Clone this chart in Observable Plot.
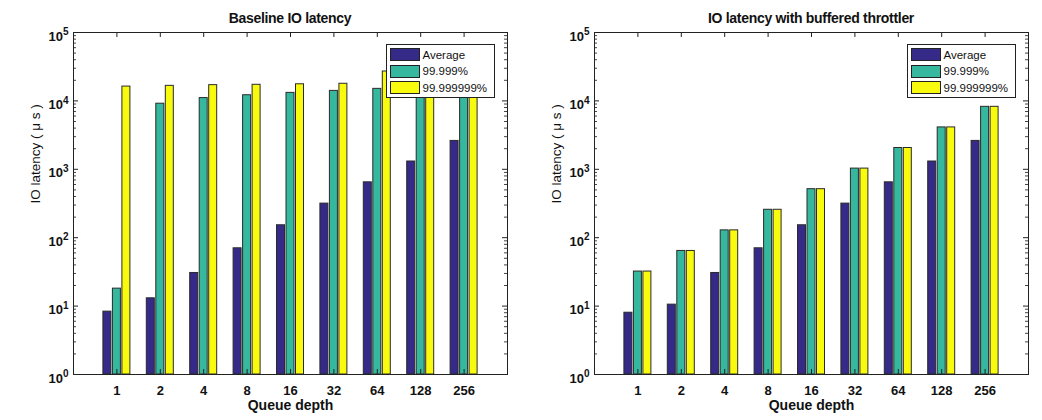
<!DOCTYPE html>
<html><head><meta charset="utf-8">
<script src="https://cdn.jsdelivr.net/npm/d3@7"></script>
<script src="https://cdn.jsdelivr.net/npm/@observablehq/plot@0.6"></script>
<style>
body{margin:0;background:#fff;font-family:Arial,"Liberation Sans",sans-serif;}
#wrap{display:flex;width:1042px;height:420px;}
.panel{position:relative;height:420px;flex:none;}
.title{height:15px;padding-top:11px;line-height:15px;font-size:14px;font-weight:bold;text-align:center;color:#111;letter-spacing:-0.3px;}
.legend{position:absolute;background:#fff;border:1px solid #222;box-sizing:border-box;}
.row{position:absolute;left:3px;height:13px;display:flex;align-items:center;}
.sw{width:30px;height:13px;box-sizing:border-box;border:1px solid #222;}
.lab{margin-left:3px;font-size:11.5px;color:#111;white-space:nowrap;}
</style></head><body><div id="wrap"></div>
<script>
// Queue depth categories
const categories = ["1","2","4","8","16","32","64","128","256"];
// Baseline IO latency (µs)
const baselineAvg = [8.3, 13, 30.5, 70, 152, 315, 645, 1300, 2600];
const baselineP5 = [18, 9100, 11000, 12100, 13100, 14000, 15000, 16000, 17000];
const baselineP8 = [16200, 16600, 17000, 17200, 17500, 17800, 26900, 29000, 31000];
// IO latency with buffered throttler (µs)
const throttledAvg = [8.0, 10.5, 30.5, 70, 152, 315, 645, 1300, 2600];
const throttledP5 = [32, 64, 128, 256, 512, 1024, 2048, 4096, 8192];
const throttledP8 = [32, 64, 128, 256, 512, 1024, 2048, 4096, 8192];

const seriesNames = ["Average", "99.999%", "99.999999%"];
const seriesColors = ["#352a87", "#36b89e", "#f9fb0e"];
const yTicks = [1, 10, 100, 1000, 10000, 100000];
const yDomain = [1, 100000];
const xLabel = "Queue depth";
const yLabel = "IO latency ( \u03bc s )";

function makePanel({title, series, width, ml, mr, legendLeft}) {
  const div = document.createElement("div");
  div.className = "panel";
  div.style.width = width + "px";
  const t = document.createElement("div");
  t.className = "title";
  t.style.paddingLeft = ml + "px";
  t.style.paddingRight = mr + "px";
  t.textContent = title;
  div.appendChild(t);

  const H = 394, mt = 6, mb = 46;
  const fw = width - ml - mr, fh = H - mt - mb;
  const rows = categories.map((c, i) => ({qd: c, v0: series[0][i], v1: series[1][i], v2: series[2][i]}));
  const bw = 8, pitch = 9.5, group = 27;
  const barMarks = series.map((s, j) => Plot.barY(rows, {
    x: "qd", y1: () => yDomain[0], y2: "v" + j,
    fill: seriesColors[j], stroke: "#2a2a2a", strokeWidth: 1,
    insetLeft: j * pitch, insetRight: group - j * pitch - bw
  }));
  const minor = [];
  for (let e = 0; e < 5; e++) for (let m = 2; m <= 9; m++) minor.push(m * 10 ** e);

  const plot = Plot.plot({
    width, height: H, marginTop: mt, marginBottom: mb, marginLeft: ml, marginRight: mr,
    style: {fontFamily: "Arial, 'Liberation Sans', sans-serif", color: "#111", overflow: "visible", background: "transparent"},
    x: {type: "band", domain: categories, paddingInner: 0.378, paddingOuter: 0.689, round: false},
    y: {type: "log", domain: yDomain},
    marks: [
      ...barMarks,
      Plot.ruleY(yTicks, {y: d => d, stroke: "#222", insetRight: fw - 5}),
      Plot.ruleY(yTicks, {y: d => d, stroke: "#222", insetLeft: fw - 5}),
      Plot.ruleY(minor, {y: d => d, stroke: "#444", insetRight: fw - 3}),
      Plot.ruleY(minor, {y: d => d, stroke: "#444", insetLeft: fw - 3}),
      Plot.ruleX(categories, {x: d => d, stroke: "#222", insetBottom: fh - 5}),
      Plot.ruleX(categories, {x: d => d, stroke: "#222", insetTop: fh - 5}),
      Plot.frame({stroke: "#222"}),
      Plot.axisX({tickSize: 0, tickPadding: 11, fontSize: 13, fontWeight: "bold", label: null}),
      Plot.axisY({ticks: yTicks, tickSize: 0, tickPadding: 5, fontSize: 13, fontWeight: "bold", label: null,
        tickFormat: d => "10^" + Math.round(Math.log10(d)), dy: 4}),
      Plot.text([xLabel], {text: d => d, frameAnchor: "bottom", dy: 35, fontSize: 14, fontWeight: "bold"}),
      Plot.text([yLabel], {text: d => d, frameAnchor: "left", dx: -38, rotate: -90, fontSize: 13.5})
    ]
  });
  plot.querySelectorAll('g[aria-label="y-axis tick label"] text').forEach(tx => {
    const [b, e] = tx.textContent.split("^");
    tx.textContent = b;
    const ts = document.createElementNS("http://www.w3.org/2000/svg", "tspan");
    ts.setAttribute("dy", "-5.5");
    ts.setAttribute("font-size", "10");
    ts.textContent = e;
    tx.appendChild(ts);
  });
  div.appendChild(plot);

  const lg = document.createElement("div");
  lg.className = "legend";
  lg.style.left = legendLeft + "px";
  lg.style.top = "44px";
  lg.style.width = "109px";
  lg.style.height = "54px";
  seriesNames.forEach((n, j) => {
    const r = document.createElement("div");
    r.className = "row";
    r.style.top = (3 + j * 16.5) + "px";
    const sw = document.createElement("div");
    sw.className = "sw";
    sw.style.background = seriesColors[j];
    const lab = document.createElement("span");
    lab.className = "lab";
    lab.textContent = n;
    r.appendChild(sw); r.appendChild(lab);
    lg.appendChild(r);
  });
  div.appendChild(lg);
  return div;
}

const wrap = document.getElementById("wrap");
wrap.appendChild(makePanel({title: "Baseline IO latency", series: [baselineAvg, baselineP5, baselineP8],
  width: 520, ml: 73, mr: 13, legendLeft: 385.5}));
wrap.appendChild(makePanel({title: "IO latency with buffered throttler", series: [throttledAvg, throttledP5, throttledP8],
  width: 522, ml: 74, mr: 14, legendLeft: 386.5}));
</script>
</body></html>
